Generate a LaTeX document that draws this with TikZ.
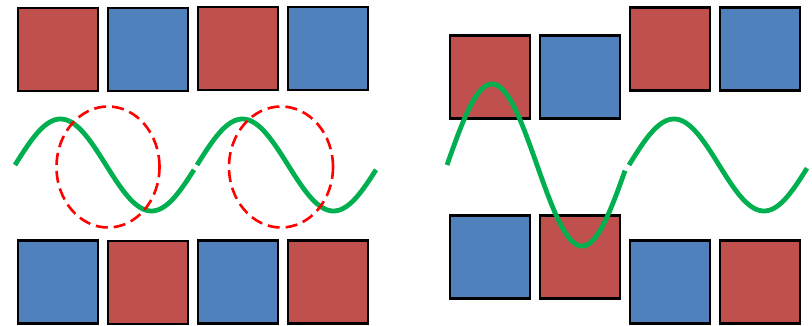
\documentclass[tikz,border=0pt]{standalone}
\begin{document}
\begin{tikzpicture}[x=1pt, y=-1pt,
  sq/.style={draw=black, line width=2.4pt, inner sep=0pt, minimum width=80pt, minimum height=83pt},
  redsq/.style={sq, fill=tileRed},
  bluesq/.style={sq, fill=tileBlue},
  wave/.style={draw=waveGreen, line width=4.8pt},
  ring/.style={draw=ringRed, line width=2.6pt, dash pattern=on 12pt off 6pt}]
\definecolor{tileRed}{HTML}{C0504D}
\definecolor{tileBlue}{HTML}{4F81BD}
\definecolor{waveGreen}{HTML}{00B050}
\definecolor{ringRed}{HTML}{FF0000}
\useasboundingbox (0,0) rectangle (812,326);

% left panel: aligned rows
\node[redsq]  (lt1) at (58,49.5) {};
\node[bluesq] (lt2) at (148,49.5) {};
\node[redsq]  (lt3) at (238,48.5) {};
\node[bluesq] (lt4) at (328,48.5) {};
\node[bluesq] (lb1) at (58,282) {};
\node[redsq]  (lb2) at (148,282.5) {};
\node[bluesq] (lb3) at (238,282) {};
\node[redsq]  (lb4) at (328,282) {};

% wave phase: (x - x0)/period*360, kept small for pgfmath
\draw[wave] plot[domain=15:194, samples=90, smooth] (\x, {165-46*sin((\x-15)/182*360)});
\draw[wave] plot[domain=197:376, samples=90, smooth] (\x, {165-46*sin((\x-197)/182*360)});

\draw[ring] (108,167) ellipse [x radius=51.5pt, y radius=60.5pt];
\draw[ring] (281,167) ellipse [x radius=52pt, y radius=60.5pt];

% right panel: shifted rows
\node[redsq]  (rt1) at (490,77) {};
\node[bluesq] (rt2) at (580,77) {};
\node[redsq]  (rt3) at (670,49) {};
\node[bluesq] (rt4) at (760,49) {};
\node[bluesq] (rb1) at (490,257) {};
\node[redsq]  (rb2) at (580,257) {};
\node[bluesq] (rb3) at (670,282) {};
\node[redsq]  (rb4) at (760,282) {};

\draw[wave] plot[domain=447:625, samples=90, smooth] (\x, {165-81*sin((\x-447)/180*360)});
\draw[wave] plot[domain=629:807, samples=90, smooth] (\x, {165-46*sin((\x-629)/180*360)});
\end{tikzpicture}
\end{document}
